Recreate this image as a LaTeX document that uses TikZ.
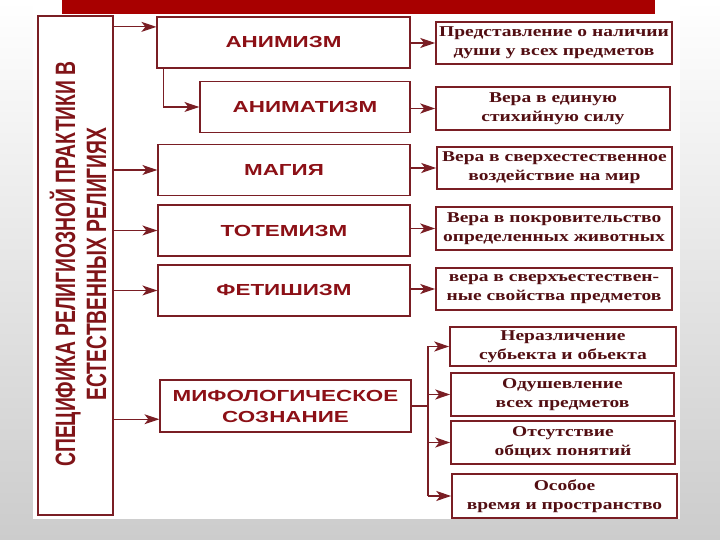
\documentclass[tikz,border=0pt]{standalone}
\usepackage{xcolor}
\usepackage{fontspec}
\usepackage{tikz}
\usetikzlibrary{arrows.meta}
\newfontfamily\sidefont[FakeStretch=0.69]{Liberation Sans Bold}
\newfontfamily\midfont[FakeStretch=1.4]{Liberation Sans Bold}
\newfontfamily\notefont[FakeStretch=1.3]{Liberation Serif Bold}
\definecolor{boxline}{RGB}{122,30,36}
\definecolor{midtext}{RGB}{140,16,22}
\definecolor{notetext}{RGB}{82,14,18}
\definecolor{sidetext}{RGB}{128,20,24}
\definecolor{topbar}{RGB}{168,0,0}

\begin{document}
\begin{tikzpicture}[x=1pt,y=1pt,
    sidebox/.style={draw=boxline,line width=1.6pt,fill=white,inner sep=0pt,
      minimum width=75pt,minimum height=499pt},
    kindbox/.style={draw=boxline,line width=1.2pt,fill=white,inner sep=0pt,
      minimum height=51pt,align=center,text=midtext,
      font=\midfont\fontsize{16}{21}\selectfont},
    notebox/.style={draw=boxline,line width=1.6pt,fill=white,inner sep=0pt,
      minimum height=42pt,align=center,text=notetext,
      font=\notefont\fontsize{15}{19}\selectfont},
    link/.style={boxline,line width=1.2pt},
    arr/.style={link,-{Stealth[length=15pt,width=10pt,inset=4pt]}}]
  \useasboundingbox (0,0) rectangle (720,540);
  \shade[top color=white,bottom color=black!20] (0,0) rectangle (720,540);
  \fill[white] (33,21) rectangle (680,540);
  \fill[topbar] (62,526) rectangle (655,540);

  % left column
  \node[sidebox] (side) at (75.5,274.5) {};
  \node[rotate=90,text=sidetext,align=center,
    font=\sidefont\fontsize{28}{31}\selectfont] (sidetitle) at (78,276)
    {СПЕЦИФИКА РЕЛИГИОЗНОЙ ПРАКТИКИ В\\ЕСТЕСТВЕННЫХ РЕЛИГИЯХ};

  % forms of practice
  \node[kindbox,minimum width=253pt] (anim)   at (283.5,497.5) {АНИМИЗМ};
  \node[kindbox,minimum width=210pt] (animat) at (305,433)     {АНИМАТИЗМ};
  \node[kindbox,minimum width=252pt] (mag)    at (284,370)     {МАГИЯ};
  \node[kindbox,minimum width=252pt] (totem)  at (284,309.5)   {ТОТЕМИЗМ};
  \node[kindbox,minimum width=252pt] (fetish) at (284,249.5)   {ФЕТИШИЗМ};
  \node[kindbox,minimum width=251pt,minimum height=52pt] (mif) at (285.5,134)
    {МИФОЛОГИЧЕСКОЕ\\СОЗНАНИЕ};

  % notes
  \node[notebox,minimum width=236pt] (r1) at (554,497)
    {Представление о наличии\\души у всех предметов};
  \node[notebox,minimum width=234pt,minimum height=43pt] (r2) at (553,431.5)
    {Вера в единую\\стихийную силу};
  \node[notebox,minimum width=235pt] (r3) at (554.5,372)
    {Вера в сверхестественное\\воздействие на мир};
  \node[notebox,minimum width=236pt,minimum height=43pt] (r4) at (554,311.5)
    {Вера в покровительство\\определенных животных};
  \node[notebox,minimum width=236pt] (r5) at (554,251)
    {вера в сверхъестествен-\\ные свойства предметов};

  \node[notebox,minimum width=226pt,minimum height=39pt] (m1) at (563,193.5)
    {Неразличение\\субьекта и обьекта};
  \node[notebox,minimum width=223pt,minimum height=43pt] (m2) at (562.5,145.5)
    {Одушевление\\всех предметов};
  \node[notebox,minimum width=224pt,minimum height=43pt] (m3) at (563,97.5)
    {Отсутствие\\общих понятий};
  \node[notebox,minimum width=225pt,minimum height=44pt] (m4) at (564.5,44)
    {Особое\\время и пространство};

  % connectors
  \draw[arr] (side.east |- anim.173) -- (anim.173);
  \draw[arr] ([xshift=7pt]anim.south west) |- (animat.west);
  \foreach \n in {mag,totem,fetish} {
    \draw[arr] (side.east |- \n.west) -- (\n.west);
  }
  \draw[arr] (side.east |- mif.186) -- (mif.186);

  \draw[arr] (anim.east |- r1.west) -- (r1.west);
  \draw[arr] (animat.east |- r2.west) -- (r2.west);
  \draw[arr] (mag.east |- r3.west) -- (r3.west);
  \draw[arr] (totem.east |- r4.west) -- (r4.west);
  \draw[arr] (fetish.east |- r5.west) -- (r5.west);

  \coordinate (fork) at (428,134);
  \draw[link] (mif.east) -- (fork);
  \draw[link] (fork |- m1.west) -- (fork |- m4.west);
  \foreach \n in {m1,m2,m3,m4} {
    \draw[arr] (fork |- \n.west) -- (\n.west);
  }
\end{tikzpicture}
\end{document}
